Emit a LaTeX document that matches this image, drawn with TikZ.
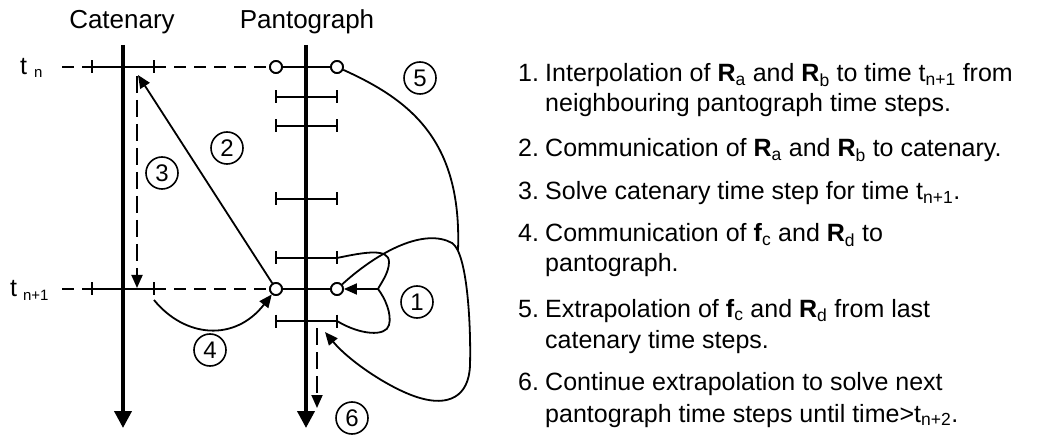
\documentclass[tikz,border=0pt]{standalone}
\usepackage{fontspec}
\setmainfont{Liberation Sans}
\usetikzlibrary{arrows.meta}
\begin{document}
\begin{tikzpicture}[x=1pt,y=-1pt,
  thinln/.style={line width=1.8pt},
  axis/.style={line width=3.8pt,-{Triangle[length=17pt,width=17pt]}},
  arr/.style={line width=1.8pt,-{Triangle[length=13pt,width=11pt]}},
  dsh/.style={line width=1.8pt,dash pattern=on 12pt off 8pt},
  vdsh/.style={line width=1.8pt,dash pattern=on 17pt off 7pt},
  tpt/.style={circle,draw,fill=white,line width=1.8pt,minimum size=12pt,inner sep=0pt},
  num/.style={circle,draw,line width=1.6pt,minimum size=32pt,inner sep=0pt,font=\fontsize{24}{26}\selectfont},
  title/.style={inner sep=0pt,font=\fontsize{26}{30}\selectfont},
  lbl/.style={anchor=base west,inner sep=0pt,font=\fontsize{25}{30}\selectfont},
  tlbl/.style={anchor=base west,inner sep=0pt,font=\fontsize{25}{30}\selectfont},
]
\useasboundingbox (0,0) rectangle (1043,435);

% titles
\node[title] (cat) at (122,22) {Catenary};
\node[title] (pan) at (307,22) {Pantograph};

% time labels
\node[tlbl] (tn) at (20,75) {t\hspace{7pt}\raisebox{-3pt}{\fontsize{15}{15}\selectfont n}};
\node[tlbl] (tn1) at (10,297) {t\hspace{6pt}\raisebox{-4pt}{\fontsize{15}{15}\selectfont n+1}};

% axes
\coordinate (catT) at (123,45);
\coordinate (catB) at (123,428);
\coordinate (panT) at (306,45);
\coordinate (panB) at (306,428);
\draw[axis] (catT) -- (catB);
\draw[axis] (panT) -- (panB);

% pantograph points
\node[tpt] (c1) at (276,67) {};
\node[tpt] (c2) at (337,67) {};
\node[tpt] (c3) at (276,289) {};
\node[tpt] (c4) at (337,289) {};

% row t_n
\coordinate (r1a) at (62,67);
\coordinate (r1b) at (92,67);
\coordinate (r1c) at (154,67);
\draw[dsh] (r1a) -- (r1b);
\draw[thinln] (r1b) -- (r1c);
\draw[dsh] (r1c) -- (c1);
\draw[thinln] (92,60.5) -- (92,73.5);
\draw[thinln] (154,60.5) -- (154,73.5);
\draw[thinln] (c1) -- (c2);

% row t_n+1
\coordinate (r2a) at (62,289);
\coordinate (r2b) at (92,289);
\coordinate (r2c) at (154,289);
\draw[dsh] (r2a) -- (r2b);
\draw[thinln] (r2b) -- (r2c);
\draw[dsh] (r2c) -- (c3);
\draw[thinln] (92,282.5) -- (92,295.5);
\draw[thinln] (154,282.5) -- (154,295.5);
\draw[thinln] (c3) -- (c4);

% redraw points on top
\node[tpt] at (c1) {};
\node[tpt] at (c2) {};
\node[tpt] at (c3) {};
\node[tpt] at (c4) {};

% rungs
\foreach \yy in {97,126,199,258,321}{
  \draw[thinln] (276,\yy) -- (337,\yy);
  \draw[thinln] (276,\yy-6.5) -- (276,\yy+6.5);
  \draw[thinln] (337,\yy-6.5) -- (337,\yy+6.5);
}
\coordinate (re4) at (337,258);
\coordinate (re5) at (337,321);

% arrow 2
\coordinate (t2) at (138,75);
\draw[arr] (c3) -- (t2);
% arrow 3
\coordinate (s3) at (137,76);
\coordinate (e3) at (137,288);
\draw[vdsh,-{Triangle[length=13pt,width=11pt]}] (s3) -- (e3);
% arrow 4
\coordinate (s4) at (154,300);
\draw[arr] (s4) .. controls (185,338) and (235,342) .. (c3);
% arrow 6
\coordinate (s6) at (317,328);
\coordinate (e6) at (317,408);
\draw[vdsh,-{Triangle[length=13pt,width=11pt]}] (s6) -- (e6);

% curve 5
\coordinate (m5) at (458,250);
\draw[thinln] (c2) .. controls (410,100) and (462,140) .. (m5);

% big loop
\coordinate (t1) at (325,332);
\draw[arr] (c4) .. controls (380,250) and (425,228) .. (452,243)
  .. controls (468,253) and (471,330) .. (470,365)
  .. controls (469,398) and (447,406) .. (420,398)
  .. controls (392,390) and (350,362) .. (t1);

% heart loop
\coordinate (h) at (378,289);
\draw[thinln] (re4) .. controls (365,252) and (389,248) .. (389,262)
  .. controls (389,273) and (381,283) .. (h)
  .. controls (385,298) and (392,314) .. (389,325)
  .. controls (386,337) and (360,335) .. (re5);
\draw[arr] (h) -- (c4);

% circled numbers
\node[num] (n1) at (417,302) {1};
\node[num] (n2) at (227,148) {2};
\node[num] (n3) at (162,173) {3};
\node[num] (n4) at (210,350) {4};
\node[num] (n5) at (420,78) {5};
\node[num] (n6) at (352,418) {6};

% list
\node[lbl] (k1) at (518,82) {1.};
\node[lbl] (l1a) at (545,82) {Interpolation of \textbf{R}\textsubscript{a} and \textbf{R}\textsubscript{b} to time t\textsubscript{n+1} from};
\node[lbl] (l1b) at (545,112) {neighbouring pantograph time steps.};
\node[lbl] (k2) at (518,157) {2.};
\node[lbl] (l2a) at (545,157) {Communication of \textbf{R}\textsubscript{a} and \textbf{R}\textsubscript{b} to catenary.};
\node[lbl] (k3) at (518,200) {3.};
\node[lbl] (l3a) at (545,200) {Solve catenary time step for time t\textsubscript{n+1}.};
\node[lbl] (k4) at (518,242) {4.};
\node[lbl] (l4a) at (545,242) {Communication of \textbf{f}\textsubscript{c} and \textbf{R}\textsubscript{d} to};
\node[lbl] (l4b) at (545,272) {pantograph.};
\node[lbl] (k5) at (518,317) {5.};
\node[lbl] (l5a) at (545,317) {Extrapolation of \textbf{f}\textsubscript{c} and \textbf{R}\textsubscript{d} from last};
\node[lbl] (l5b) at (545,348) {catenary time steps.};
\node[lbl] (k6) at (518,390) {6.};
\node[lbl] (l6a) at (545,390) {Continue extrapolation to solve next};
\node[lbl] (l6b) at (545,422) {pantograph time steps until time>t\textsubscript{n+2}.};
\end{tikzpicture}
\end{document}
